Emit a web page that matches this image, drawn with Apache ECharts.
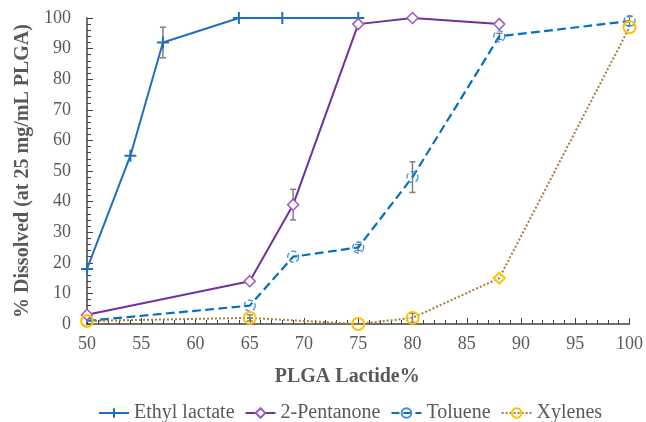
<!DOCTYPE html>
<html><head><meta charset="utf-8">
<script src="https://cdn.jsdelivr.net/npm/echarts@6/dist/echarts.min.js"></script>
<style>html,body{margin:0;padding:0;background:#fff}#c{width:646px;height:422px}</style>
</head><body><div id="c"></div>
<script>
const ethylX = [50, 54, 57, 64, 68, 75];
const ethylY = [18, 55, 92, 100, 100, 100];
const pentX = [50, 65, 69, 75, 80, 88];
const pentY = [3, 14, 39, 98, 100, 98];
const tolX = [50, 65, 69, 75, 80, 88, 100];
const tolY = [1, 6, 22, 25, 48, 94, 99];
const xylX = [50, 65, 75, 80, 88, 100];
const xylY = [1, 2, 0, 2, 15, 97];
// error bars: x, y, +/- error
const errX = [57, 69, 80, 80, 75, 88, 100, 65];
const errY = [92, 39, 48, 2, 25, 94, 99, 2];
const errV = [5, 5, 5, 1.5, 1, 1, 1.5, 1];

const font = 'Liberation Serif, Times New Roman, serif';
const gray = '#595959';
const pair = (xs, ys) => xs.map((x, i) => [x, ys[i]]);

const chart = echarts.init(document.getElementById('c'), null, {renderer: 'canvas'});
chart.setOption({
  animation: false,
  grid: {left: 87, right: 16, top: 18, bottom: 98},
  legend: {
    top: 398, left: 93,
    itemWidth: 30, itemHeight: 12, itemGap: 10,
    textStyle: {fontFamily: font, fontSize: 20, color: gray},
    data: ['Ethyl lactate', '2-Pentanone', 'Toluene', 'Xylenes']
  },
  xAxis: {
    type: 'value', min: 50, max: 100, interval: 5,
    name: 'PLGA Lactide%', nameLocation: 'middle', nameGap: 43,
    nameTextStyle: {fontFamily: font, fontSize: 20, fontWeight: 'bold', color: gray, padding: [0, 22, 0, 0]},
    axisLine: {lineStyle: {color: '#404040', width: 1.5}},
    axisTick: {show: true, inside: true, length: 6, lineStyle: {color: '#404040'}},
    minorTick: {show: true, splitNumber: 5, length: 4, lineStyle: {color: '#404040'}},
    splitLine: {show: false},
    axisLabel: {fontFamily: font, fontSize: 18, color: gray, margin: 11}
  },
  yAxis: {
    type: 'value', min: 0, max: 100, interval: 10,
    name: '% Dissolved (at 25 mg/mL PLGA)', nameLocation: 'middle', nameGap: 54,
    nameTextStyle: {fontFamily: font, fontSize: 20, fontWeight: 'bold', color: gray},
    axisLine: {show: true, lineStyle: {color: '#404040', width: 1.5}},
    axisTick: {show: true, inside: true, length: 6, lineStyle: {color: '#404040'}},
    minorTick: {show: true, splitNumber: 5, length: 4, lineStyle: {color: '#404040'}},
    splitLine: {show: false},
    axisLabel: {fontFamily: font, fontSize: 18, color: gray, margin: 16}
  },
  series: [
    {
      name: 'Ethyl lactate', type: 'line', data: pair(ethylX, ethylY),
      symbol: 'path://M5,0L5,10M0,5L10,5', symbolSize: 12, showAllSymbol: true,
      lineStyle: {color: '#1F6FBF', width: 2},
      itemStyle: {color: '#1F6FBF', borderColor: '#1F6FBF', borderWidth: 2}
    },
    {
      name: '2-Pentanone', type: 'line', data: pair(pentX, pentY),
      symbol: 'diamond', symbolSize: 11,
      lineStyle: {color: '#7030A0', width: 2},
      itemStyle: {color: '#fff', borderColor: '#9B59C6', borderWidth: 1.5}
    },
    {
      name: 'Toluene', type: 'line', data: pair(tolX, tolY),
      symbol: 'circle', symbolSize: 11,
      lineStyle: {color: '#0070C0', width: 2.2, type: 'dashed'},
      itemStyle: {color: 'rgba(255,255,255,0)', borderColor: '#3A8FD8', borderWidth: 1.3, borderType: 'dashed'}
    },
    {
      name: 'Xylenes', type: 'line',
      data: pair(xylX, xylY).map((p, i) => xylX[i] === 88 ? {value: p, symbol: 'diamond', symbolSize: 11} : p),
      symbol: 'circle', symbolSize: 12,
      lineStyle: {color: '#A67C3A', width: 2, type: 'dotted'},
      itemStyle: {color: 'rgba(255,255,255,0)', borderColor: '#FFC000', borderWidth: 2}
    },
    {
      name: 'err', type: 'custom', silent: true, z: 3,
      data: errX.map((x, i) => [x, errY[i], errV[i]]),
      renderItem: function (params, api) {
        const x = api.value(0), y = api.value(1), e = api.value(2);
        const top = api.coord([x, y + e]);
        const bot = api.coord([x, y - e]);
        const w = 3;
        const st = {stroke: '#7F7F7F', lineWidth: 1.5};
        return {type: 'group', children: [
          {type: 'line', shape: {x1: top[0], y1: top[1], x2: bot[0], y2: bot[1]}, style: st},
          {type: 'line', shape: {x1: top[0] - w, y1: top[1], x2: top[0] + w, y2: top[1]}, style: st},
          {type: 'line', shape: {x1: bot[0] - w, y1: bot[1], x2: bot[0] + w, y2: bot[1]}, style: st}
        ]};
      }
    }
  ]
});
</script></body></html>
